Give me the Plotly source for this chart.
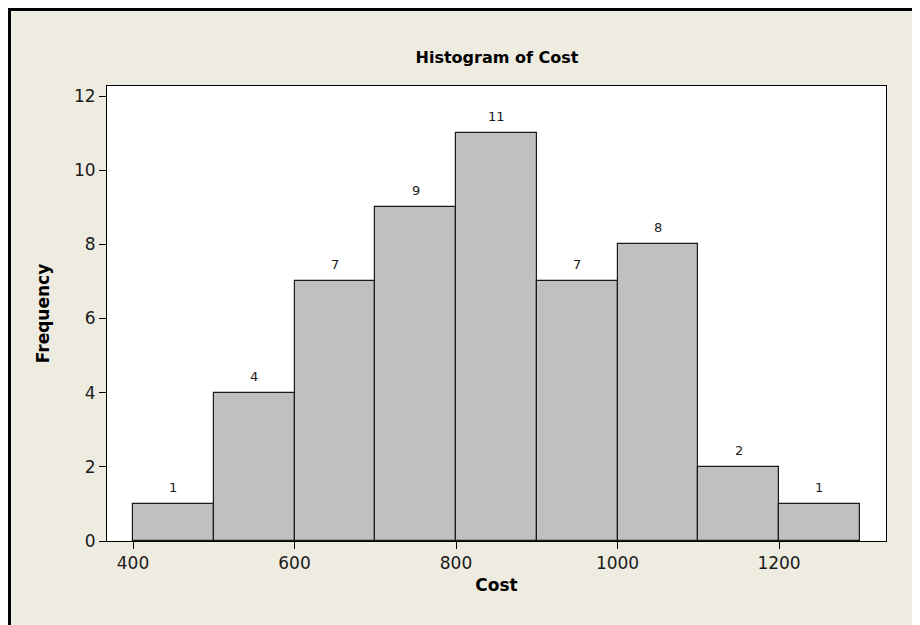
import plotly.graph_objects as go

# histogram bins (lower edge) and counts
bin_starts = [400, 500, 600, 700, 800, 900, 1000, 1100, 1200]
bin_width = 100
counts = [1, 4, 7, 9, 11, 7, 8, 2, 1]
x_ticks = [400, 600, 800, 1000, 1200]
y_ticks = [0, 2, 4, 6, 8, 10, 12]

font_family = "DejaVu Sans, Verdana, sans-serif"
bg = "#EEEBE0"

centers = [s + bin_width / 2 for s in bin_starts]

fig = go.Figure()
fig.add_trace(
    go.Bar(
        x=centers,
        y=counts,
        width=bin_width,
        marker=dict(color="#C0C0C0", line=dict(color="#1a1a1a", width=1.2)),
        showlegend=False,
        hoverinfo="skip",
    )
)

# count labels above each bar
for cx, c in zip(centers, counts):
    fig.add_annotation(
        x=cx,
        y=c,
        text=str(c),
        showarrow=False,
        yanchor="bottom",
        yshift=7,
        font=dict(size=13, color="#1a1a1a", family=font_family),
    )

plot_w = 920 - 99 - 42
plot_h = 625 - 78 - 92
bx = (1.5 - 99) / plot_w
by = (plot_h + 78 - 1.5) / plot_h

fig.update_layout(
    width=920,
    height=625,
    paper_bgcolor=bg,
    plot_bgcolor="#FFFFFF",
    margin=dict(l=99, r=42, t=78, b=92),
    font=dict(family=font_family, color="#1a1a1a", size=16),
    bargap=0,
    title=dict(
        text="<b>Histogram of Cost</b>",
        x=(497 - 8) / 920,
        xanchor="center",
        y=1 - 49 / 625,
        yanchor="middle",
        font=dict(size=16, color="#000000", family=font_family),
    ),
    shapes=[
        dict(
            type="path",
            xref="paper",
            yref="paper",
            path=f"M {bx},-0.3 L {bx},{by} L 1.2,{by}",
            line=dict(color="#000000", width=3),
        )
    ],
)

fig.update_xaxes(
    range=[367.8, 1332.5],
    tickvals=x_ticks,
    ticks="outside",
    ticklen=7,
    tickcolor="#000000",
    showline=True,
    mirror=True,
    linecolor="#000000",
    linewidth=1,
    showgrid=False,
    zeroline=False,
    tickfont=dict(size=17),
    title=dict(text="<b>Cost</b>", font=dict(size=17, color="#000000"), standoff=6),
)
fig.update_yaxes(
    range=[0, 12.27],
    tickvals=y_ticks,
    ticks="outside",
    ticklen=7,
    tickcolor="#000000",
    showline=True,
    mirror=True,
    linecolor="#000000",
    linewidth=1,
    showgrid=False,
    zeroline=False,
    tickfont=dict(size=17),
    title=dict(text="<b>Frequency</b>", font=dict(size=17, color="#000000"), standoff=20),
)

fig.write_html("out.html")
